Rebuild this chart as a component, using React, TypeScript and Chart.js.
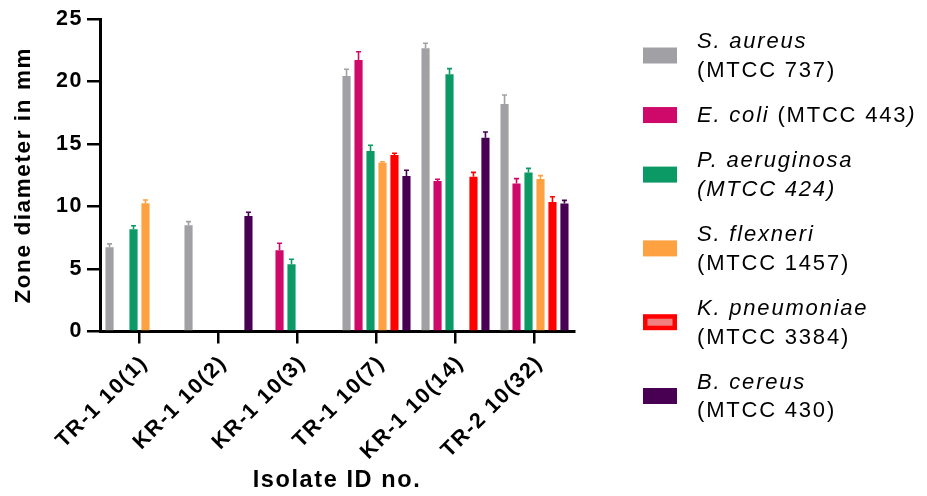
import React, { useEffect, useRef } from "react";
import { Chart, registerables } from "chart.js";

Chart.register(...registerables);

const categories = ["TR-1 10(1)", "KR-1 10(2)", "KR-1 10(3)", "TR-1 10(7)", "KR-1 10(14)", "TR-2 10(32)"];

const sAureus = [6.74, 8.5, null, 20.44, 22.66, 18.2];
const sAureusErr = [0.27, 0.29, 0, 0.54, 0.4, 0.72];
const eColi = [null, null, 6.5, 21.72, 12.04, 11.85];
const eColiErr = [0, 0, 0.56, 0.66, 0.14, 0.38];
const pAeruginosa = [8.18, null, 5.38, 14.44, 20.58, 12.73];
const pAeruginosaErr = [0.28, 0, 0.4, 0.46, 0.45, 0.32];
const sFlexneri = [10.26, null, null, 13.5, null, 12.2];
const sFlexneriErr = [0.26, 0, 0, 0.08, 0, 0.27];
const kPneumoniae = [null, null, null, 14.12, 12.38, 10.36];
const kPneumoniaeErr = [0, 0, 0, 0.14, 0.35, 0.42];
const bCereus = [null, 9.24, null, 12.44, 15.5, 10.25];
const bCereusErr = [0, 0.3, 0, 0.46, 0.46, 0.24];

const yTickValues = [0, 5, 10, 15, 20, 25];

const FONT = '"Liberation Sans", Arial, sans-serif';

type Seg = { t: string; i: boolean };
type Series = { label: string; data: (number | null)[]; err: number[]; color: string; legend: Seg[][]; legendFill?: string };

const series: Series[] = [
  { label: "S. aureus (MTCC 737)", data: sAureus, err: sAureusErr, color: "#A1A0A5",
    legend: [[{ t: "S. aureus", i: true }], [{ t: "(MTCC 737)", i: false }]] },
  { label: "E. coli (MTCC 443)", data: eColi, err: eColiErr, color: "#CF096A",
    legend: [[{ t: "E. coli", i: true }, { t: " (MTCC 443", i: false }, { t: ")", i: true }]] },
  { label: "P. aeruginosa (MTCC 424)", data: pAeruginosa, err: pAeruginosaErr, color: "#0B9965",
    legend: [[{ t: "P. aeruginosa", i: true }], [{ t: "(MTCC 424)", i: true }]] },
  { label: "S. flexneri (MTCC 1457)", data: sFlexneri, err: sFlexneriErr, color: "#FEA140",
    legend: [[{ t: "S. flexneri", i: true }], [{ t: "(MTCC 1457)", i: false }]] },
  { label: "K. pneumoniae (MTCC 3384)", data: kPneumoniae, err: kPneumoniaeErr, color: "#FF0000", legendFill: "#F08080",
    legend: [[{ t: "K. pneumoniae", i: true }], [{ t: "(MTCC 3384)", i: false }]] },
  { label: "B. cereus (MTCC 430)", data: bCereus, err: bCereusErr, color: "#480053",
    legend: [[{ t: "B. cereus", i: true }], [{ t: "(MTCC 430)", i: false }]] },
];

const spacingPlugin = {
  id: "spacing",
  beforeDraw(chart: any) {
    chart.ctx.letterSpacing = "1.6px";
  },
};

const errorBarPlugin = {
  id: "errorBars",
  afterDatasetsDraw(chart: any) {
    const ctx = chart.ctx;
    const yScale = chart.scales.y;
    ctx.save();
    series.forEach((s, di) => {
      const meta = chart.getDatasetMeta(di);
      meta.data.forEach((el: any, j: number) => {
        const v = s.data[j];
        const e = s.err[j];
        if (v == null || !e) return;
        const yTop = yScale.getPixelForValue(v + e);
        ctx.strokeStyle = s.color;
        ctx.lineWidth = 1.6;
        ctx.beginPath();
        ctx.moveTo(el.x, el.y);
        ctx.lineTo(el.x, yTop);
        ctx.moveTo(el.x - 2.5, yTop);
        ctx.lineTo(el.x + 2.5, yTop);
        ctx.stroke();
      });
    });
    ctx.restore();
  },
};

const legendPlugin = {
  id: "richLegend",
  afterDraw(chart: any) {
    const ctx = chart.ctx;
    ctx.save();
    ctx.letterSpacing = "1.8px";
    ctx.textBaseline = "middle";
    ctx.textAlign = "left";
    ctx.fillStyle = "#000";
    const L = 28.5;
    const gap = 16.8;
    let center = 55.5;
    series.forEach((s, idx) => {
      if (idx > 0) {
        const prev = series[idx - 1].legend.length;
        center += (prev * L + s.legend.length * L) / 2 + gap;
      }
      const sx = 643, sw = 34, sh = 16;
      ctx.fillStyle = s.color;
      ctx.fillRect(sx, center - sh / 2, sw, sh);
      if (s.legendFill) {
        ctx.fillStyle = s.legendFill;
        ctx.fillRect(sx + 4.5, center - sh / 2 + 4.5, sw - 9, sh - 9);
      }
      ctx.fillStyle = "#000";
      const n = s.legend.length;
      s.legend.forEach((line, li) => {
        const ly = center + (li - (n - 1) / 2) * L + 1;
        let x = 697;
        line.forEach((seg) => {
          ctx.font = `${seg.i ? "italic " : ""}22px ${FONT}`;
          ctx.fillText(seg.t, x, ly);
          x += ctx.measureText(seg.t).width;
        });
      });
    });
    ctx.restore();
  },
};

export default function App() {
  const ref = useRef<HTMLCanvasElement | null>(null);
  useEffect(() => {
    document.body.style.margin = "0";
    const canvas = ref.current!;
    const chart = new Chart(canvas, {
      type: "bar",
      data: {
        labels: categories,
        datasets: series.map((s) => ({
          label: s.label,
          data: s.data,
          backgroundColor: s.color,
          borderWidth: 0,
          barPercentage: 0.68,
          categoryPercentage: 0.91,
        })),
      },
      options: {
        animation: false,
        responsive: false,
        devicePixelRatio: 1,
        layout: { padding: { left: 0, right: 353, top: 19, bottom: 0 } },
        plugins: {
          legend: { display: false },
          tooltip: { enabled: false },
        },
        scales: {
          x: {
            offset: true,
            afterFit: (scale: any) => { scale.height = 164.5; },
            border: { display: true, color: "#000", width: 3 },
            grid: { offset: false, drawOnChartArea: false, drawTicks: true, tickLength: 12, color: "#000", lineWidth: 2.5 },
            ticks: {
              color: "#000",
              font: { family: FONT, size: 21.5, weight: "bold" },
              minRotation: 45,
              maxRotation: 45,
              padding: 7,
              labelOffset: 5,
              autoSkip: false,
            },
            title: {
              display: true,
              text: "Isolate ID no.",
              color: "#000",
              font: { family: FONT, size: 23.5, weight: "bold" },
              padding: { top: 0, bottom: 1 },
            },
          },
          y: {
            min: 0,
            max: 25,
            afterFit: (scale: any) => { scale.width = 100; },
            afterBuildTicks: (scale: any) => { scale.ticks = yTickValues.map((v) => ({ value: v })); },
            border: { display: true, color: "#000", width: 3 },
            grid: { drawOnChartArea: false, drawTicks: true, tickLength: 13, color: "#000", lineWidth: 2.5 },
            ticks: {
              color: "#000",
              font: { family: FONT, size: 21.5, weight: "bold" },
              padding: 4,
            },
            title: {
              display: true,
              text: "Zone diameter in mm",
              color: "#000",
              font: { family: FONT, size: 22.5, weight: "bold" },
              padding: { top: 10, bottom: 0 },
            },
          },
        },
      },
      plugins: [spacingPlugin, errorBarPlugin, legendPlugin],
    } as any);
    return () => chart.destroy();
  }, []);
  return (
    <div style={{ width: 927, height: 496 }}>
      <canvas ref={ref} width={927} height={496} style={{ display: "block" }} />
    </div>
  );
}
